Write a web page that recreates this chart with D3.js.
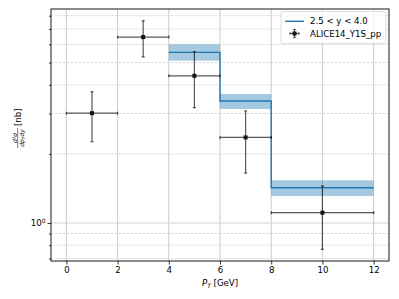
<!DOCTYPE html>
<html><head><meta charset="utf-8">
<script src="https://cdn.jsdelivr.net/npm/d3@7"></script>
<style>body{margin:0;background:#fff}svg{display:block;font-family:"DejaVu Sans",sans-serif}</style>
</head><body><svg id="c" width="399" height="299"></svg>
<script>
// Data
const binEdges = [0, 2, 4, 6, 8, 12];
const dataX = [1, 3, 5, 7, 10];
const dataXLo = [0, 2, 4, 6, 8];
const dataXHi = [2, 4, 6, 8, 12];
const dataY = [3.01, 6.46, 4.38, 2.36, 1.109];
const dataYLo = [2.26, 5.29, 3.18, 1.65, 0.768];
const dataYHi = [3.73, 7.61, 5.58, 3.08, 1.45];
const theoLo = [4, 6, 8];
const theoHi = [6, 8, 12];
const theoY = [5.54, 3.40, 1.425];
const theoBandLo = [5.10, 3.14, 1.31];
const theoBandHi = [6.01, 3.65, 1.535];
const xTicks = [0, 2, 4, 6, 8, 10, 12];
const yMajor = [1];
const yMinor = [0.7, 0.8, 0.9, 2, 3, 4, 5, 6, 7, 8];
const xDomain = [-0.6, 12.6];
const yDomain = [0.683, 8.56];
const legendLabels = ["2.5 < y < 4.0", "ALICE14_Y1S_pp"];

const svg = d3.select("#c");
const L = 51, R = 389, T = 9, B = 261;
const x = d3.scaleLinear().domain(xDomain).range([L, R]);
const y = d3.scaleLog().domain(yDomain).range([B, T]);
const blue = "#1f77b4";

// grid
const g = svg.append("g");
g.selectAll(".vg").data(xTicks).enter().append("line")
  .attr("x1", d => x(d)).attr("x2", d => x(d)).attr("y1", T).attr("y2", B)
  .attr("stroke", "#d3d3d3").attr("stroke-width", 1.2);
g.selectAll(".hg").data(yMajor).enter().append("line")
  .attr("x1", L).attr("x2", R).attr("y1", d => y(d)).attr("y2", d => y(d))
  .attr("stroke", "#d3d3d3").attr("stroke-width", 1.2);
g.selectAll(".hm").data(yMinor).enter().append("line")
  .attr("x1", L).attr("x2", R).attr("y1", d => y(d)).attr("y2", d => y(d))
  .attr("stroke", "#cfcfcf").attr("stroke-width", 0.8).attr("stroke-dasharray", "2.5,1.5");

// band
const bands = theoLo.map((d, i) => ({lo: d, hi: theoHi[i], yl: theoBandLo[i], yh: theoBandHi[i]}));
svg.selectAll(".band").data(bands).enter().append("rect")
  .attr("x", d => x(d.lo)).attr("width", d => x(d.hi) - x(d.lo))
  .attr("y", d => y(d.yh)).attr("height", d => y(d.yl) - y(d.yh))
  .attr("fill", blue).attr("fill-opacity", 0.4);

// step line
const pts = [];
theoLo.forEach((d, i) => { pts.push([d, theoY[i]]); pts.push([theoHi[i], theoY[i]]); });
svg.append("path").attr("d", d3.line().x(d => x(d[0])).y(d => y(d[1]))(pts))
  .attr("fill", "none").attr("stroke", blue).attr("stroke-width", 1.4);

// error bars
const eb = svg.append("g").attr("stroke", "#000").attr("stroke-opacity", 0.65).attr("stroke-width", 1.2);
dataX.forEach((d, i) => {
  const cx = x(d), cy = y(dataY[i]);
  eb.append("line").attr("x1", x(dataXLo[i])).attr("x2", x(dataXHi[i])).attr("y1", cy).attr("y2", cy);
  eb.append("line").attr("x1", cx).attr("x2", cx).attr("y1", y(dataYLo[i])).attr("y2", y(dataYHi[i]));
  [dataXLo[i], dataXHi[i]].forEach(v => eb.append("line").attr("x1", x(v)).attr("x2", x(v)).attr("y1", cy - 1.5).attr("y2", cy + 1.5));
  [dataYLo[i], dataYHi[i]].forEach(v => eb.append("line").attr("x1", cx - 1.5).attr("x2", cx + 1.5).attr("y1", y(v)).attr("y2", y(v)));
});
svg.selectAll(".pt").data(dataX).enter().append("rect")
  .attr("x", d => x(d) - 2).attr("y", (d, i) => y(dataY[i]) - 2).attr("width", 4).attr("height", 4)
  .attr("fill", "#111");

// axes
const xa = svg.append("g").attr("transform", `translate(0,${B})`)
  .call(d3.axisBottom(x).tickValues(xTicks).tickSize(3.5).tickPadding(2).tickFormat(d3.format("d")));
const ya = svg.append("g").attr("transform", `translate(${L},0)`)
  .call(d3.axisLeft(y).tickValues(yMajor).tickSize(3.5).tickPadding(2).tickFormat(() => ""));
const ym = svg.append("g").attr("transform", `translate(${L},0)`)
  .call(d3.axisLeft(y).tickValues(yMinor).tickSize(2).tickFormat(() => ""));
[xa, ya, ym].forEach(a => { a.select(".domain").remove(); a.selectAll("text").attr("font-size", 8.6).attr("fill", "#000").attr("font-family", "DejaVu Sans"); a.selectAll("line").attr("stroke", "#000").attr("stroke-width", 0.8); });
ya.selectAll(".tick").each(function(d) {
  const t = d3.select(this).select("text").attr("x", -5.5).attr("dy", "0.32em");
  t.text(null);
  t.append("tspan").text("10");
  t.append("tspan").attr("font-size", 6).attr("dy", "-0.55em").text(Math.round(Math.log10(d)));
});
svg.append("rect").attr("x", L).attr("y", T).attr("width", R - L).attr("height", B - T)
  .attr("fill", "none").attr("stroke", "#000").attr("stroke-width", 0.9);

// axis labels
const xl = svg.append("text").attr("x", (L + R) / 2).attr("y", 286).attr("text-anchor", "middle").attr("font-size", 8.6);
xl.append("tspan").attr("font-style", "italic").text("P");
xl.append("tspan").attr("font-style", "italic").attr("font-size", 6).attr("dy", 2).text("T");
xl.append("tspan").attr("dy", -2).text(" [GeV]");

const yl = svg.append("g").attr("transform", "translate(19,136) rotate(-90)");
yl.append("text").attr("x", -2).attr("y", -2.5).attr("text-anchor", "middle").attr("font-size", 6).attr("font-style", "italic").text("d²σ");
yl.append("line").attr("x1", -12).attr("x2", 8).attr("y1", -1.3).attr("y2", -1.3).attr("stroke", "#000").attr("stroke-width", 0.5);
const den = yl.append("text").attr("x", -2).attr("y", 4.5).attr("text-anchor", "middle").attr("font-size", 6).attr("font-style", "italic");
den.append("tspan").text("dp");
den.append("tspan").attr("font-size", 4.2).attr("dy", 1).text("T");
den.append("tspan").attr("dy", -1).text("dy");
yl.append("text").attr("x", 10).attr("y", 1.5).attr("font-size", 8.6).text("[nb]");

// legend
const lg = svg.append("g");
lg.append("rect").attr("x", 281).attr("y", 11.5).attr("width", 105).attr("height", 32).attr("rx", 2)
  .attr("fill", "#fff").attr("fill-opacity", 0.8).attr("stroke", "#d5d5d5").attr("stroke-width", 0.8);
lg.append("line").attr("x1", 285).attr("x2", 304).attr("y1", 21.3).attr("y2", 21.3).attr("stroke", blue).attr("stroke-width", 1.4);
const le = lg.append("g").attr("stroke", "#000").attr("stroke-opacity", 0.65).attr("stroke-width", 1.2);
le.append("line").attr("x1", 290).attr("x2", 299).attr("y1", 33.5).attr("y2", 33.5);
le.append("line").attr("x1", 294.5).attr("x2", 294.5).attr("y1", 29.5).attr("y2", 37.5);
le.append("line").attr("x1", 290).attr("x2", 290).attr("y1", 32.3).attr("y2", 34.7);
le.append("line").attr("x1", 299).attr("x2", 299).attr("y1", 32.3).attr("y2", 34.7);
le.append("line").attr("x1", 293.3).attr("x2", 295.7).attr("y1", 29.5).attr("y2", 29.5);
le.append("line").attr("x1", 293.3).attr("x2", 295.7).attr("y1", 37.5).attr("y2", 37.5);
lg.append("rect").attr("x", 292.5).attr("y", 31.5).attr("width", 4).attr("height", 4).attr("fill", "#111");
lg.selectAll(".lt").data(legendLabels).enter().append("text")
  .attr("x", 310).attr("y", (d, i) => 24.3 + i * 12.2).attr("font-size", 8.6).text(d => d);
</script></body></html>
